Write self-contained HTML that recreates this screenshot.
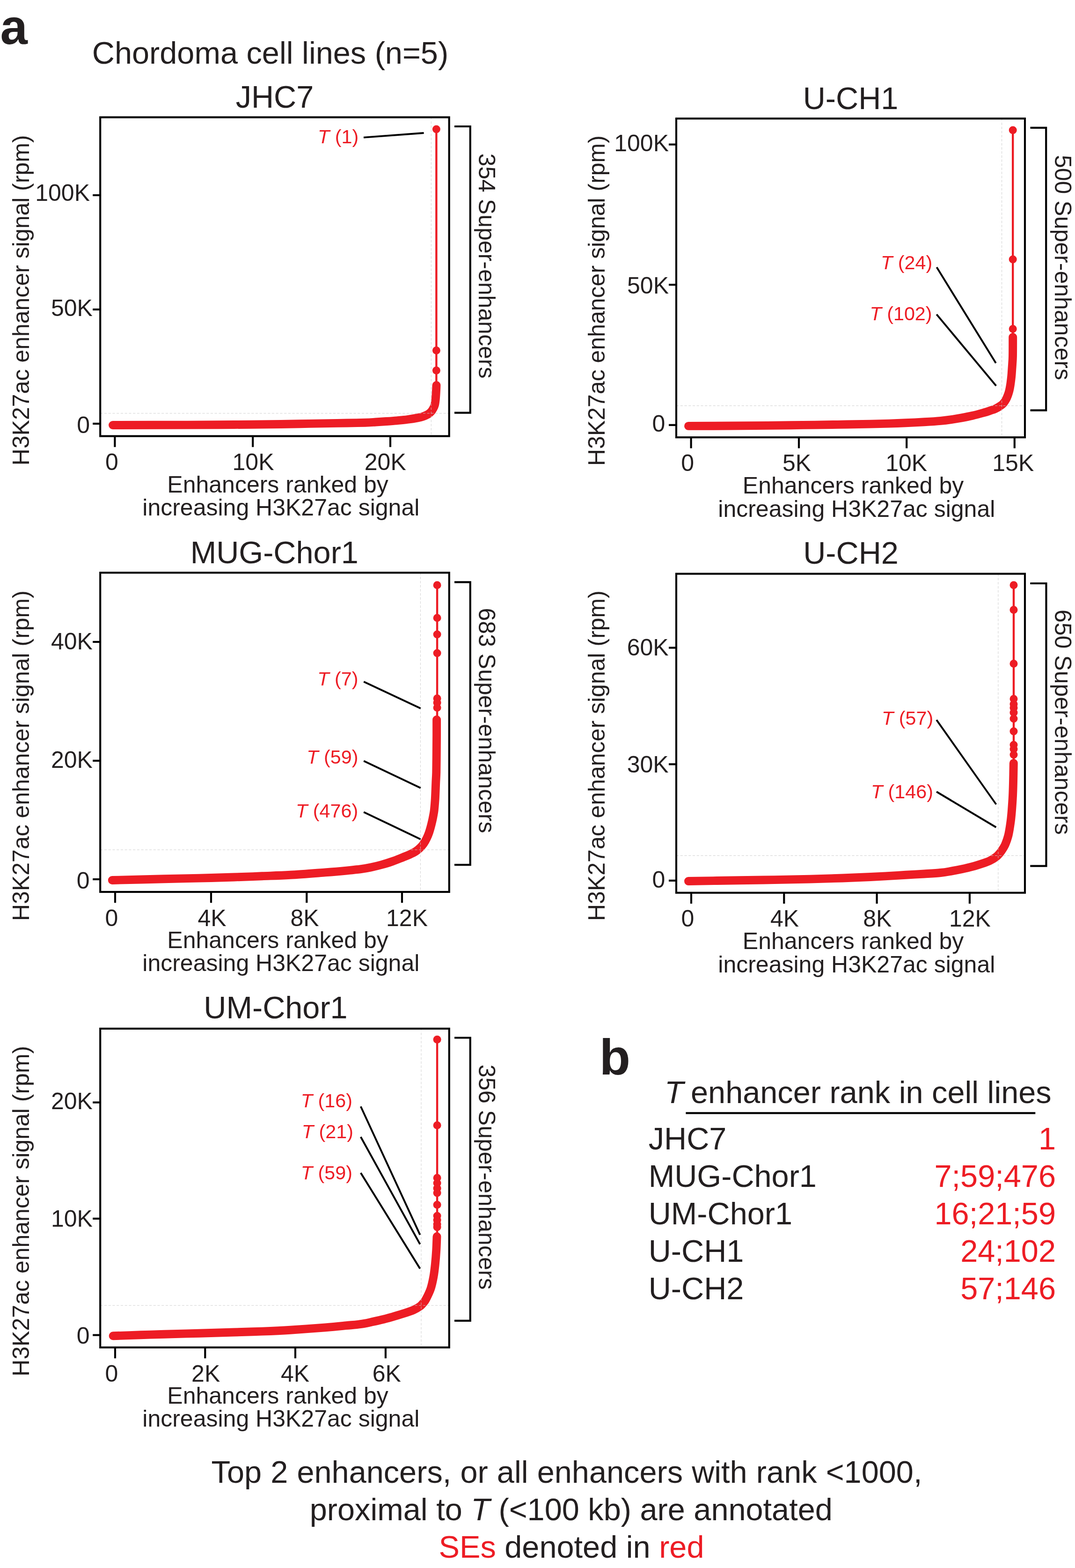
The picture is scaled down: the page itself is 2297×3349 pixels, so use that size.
<!DOCTYPE html>
<html lang="en">
<head>
<meta charset="utf-8">
<title>Chordoma cell lines - T enhancer rank</title>
<style>
html,body{margin:0;padding:0;background:#ffffff;}
body{width:2297px;height:3349px;overflow:hidden;}
svg{display:block;}
text{font-family:"Liberation Sans",Arial,Helvetica,sans-serif;fill:#231f20;}
.b{font-weight:bold;}
.i{font-style:italic;}
.r{fill:#ed1c24;}
.ax{stroke:#000000;stroke-width:4.17;fill:none;}
.an{stroke:#000000;stroke-width:3.9;fill:none;}
.g{stroke:#c9c9c9;stroke-opacity:0.85;stroke-width:1.0;stroke-dasharray:5.2 3.53;fill:none;}
.c{stroke:#ed1c24;stroke-width:17.9;fill:none;stroke-linecap:round;stroke-linejoin:round;}
.t{stroke:#ed1c24;stroke-width:4.4;fill:none;}
.d{fill:#ed1c24;}
</style>
</head>
<body>
<svg xmlns="http://www.w3.org/2000/svg" width="2297" height="3349" viewBox="0 0 2297 3349">
<rect x="0" y="0" width="2297" height="3349" fill="#ffffff"/>
<!-- JHC7 -->
<g>
<line class="t" x1="932.4" y1="276" x2="932.4" y2="820"/>
<path class="c" d="M241.0,908.0 C267.5,907.9 356.8,907.8 400.0,907.6 C443.2,907.4 466.7,907.3 500.0,907.0 C533.3,906.7 573.3,906.4 600.0,906.0 C626.7,905.6 640.0,905.2 660.0,904.9 C680.0,904.5 700.0,904.2 720.0,903.9 C740.0,903.5 766.2,903.2 780.0,902.8 C793.8,902.4 795.1,902.0 802.6,901.5 C810.1,901.0 817.7,900.5 825.2,900.0 C832.7,899.5 840.3,899.0 847.8,898.3 C855.3,897.6 862.8,897.0 870.3,896.0 C877.8,895.0 887.2,893.5 892.9,892.4 C898.5,891.3 900.7,890.7 904.2,889.5 C907.7,888.3 910.9,886.9 913.7,885.3 C916.5,883.6 919.0,881.8 921.0,879.6 C923.0,877.4 924.6,874.7 925.9,872.2 C927.2,869.7 928.2,867.6 929.0,864.6 C929.8,861.6 930.2,857.5 930.6,854.1 C931.0,850.8 931.1,848.0 931.4,844.5 C931.6,841.0 931.9,836.4 932.1,832.8 C932.3,829.2 932.4,824.6 932.5,823.0"/>
<circle class="d" cx="932.4" cy="275.9" r="8.5"/>
<circle class="d" cx="932.4" cy="748.4" r="8.5"/>
<circle class="d" cx="932.4" cy="791.3" r="8.5"/>
<line class="g" x1="921.3" y1="250.5" x2="921.3" y2="931.5"/>
<line class="g" x1="214.2" y1="882.8" x2="959.7" y2="882.8"/>
<rect class="ax" x="214.2" y="250.5" width="745.50" height="681.00"/>
<line class="ax" x1="198.2" y1="416.9" x2="214.2" y2="416.9"/>
<text x="192.00" y="429.10" font-size="50" text-anchor="end">100K</text>
<line class="ax" x1="198.2" y1="661.0" x2="214.2" y2="661.0"/>
<text x="197.90" y="675.30" font-size="50" text-anchor="end">50K</text>
<line class="ax" x1="198.2" y1="904.9" x2="214.2" y2="904.9"/>
<text x="192.00" y="925.30" font-size="50" text-anchor="end">0</text>
<line class="ax" x1="245.4" y1="931.5" x2="245.4" y2="954.8"/>
<text x="238.90" y="1004.20" font-size="50" text-anchor="middle">0</text>
<line class="ax" x1="540.2" y1="931.5" x2="540.2" y2="954.8"/>
<text x="541.00" y="1004.20" font-size="50" text-anchor="middle">10K</text>
<line class="ax" x1="834.0" y1="931.5" x2="834.0" y2="954.8"/>
<text x="823.30" y="1004.20" font-size="50" text-anchor="middle">20K</text>
<text x="587.00" y="230.20" font-size="66.67" text-anchor="middle">JHC7</text>
<text transform="translate(61.70,994.20) rotate(-90)" font-size="50">H3K27ac enhancer signal (rpm)</text>
<text x="593.60" y="1051.70" font-size="50" text-anchor="middle">Enhancers ranked by</text>
<text x="600.30" y="1100.90" font-size="50" text-anchor="middle">increasing H3K27ac signal</text>
<path class="ax" d="M971,270 H1004.8 V881.7 H971"/>
<text transform="translate(1023.40,327.50) rotate(90)" font-size="50">354 Super-enhancers</text>
<line class="an" x1="777" y1="293.6" x2="905.6" y2="284"/>
<text x="766.30" y="306.40" font-size="41.3" text-anchor="end" class="r"><tspan class="i">T</tspan> (1)</text>
</g>
<!-- U-CH1 -->
<g>
<line class="t" x1="2164.2" y1="278" x2="2164.2" y2="715"/>
<path class="c" d="M1471.0,909.9 C1485.8,909.8 1531.8,909.7 1560.0,909.5 C1588.2,909.3 1614.2,909.2 1640.0,908.9 C1665.8,908.6 1690.0,908.2 1715.0,907.9 C1740.0,907.6 1765.8,907.3 1790.0,906.9 C1814.2,906.5 1841.7,906.0 1860.0,905.6 C1878.3,905.2 1887.5,905.0 1900.0,904.6 C1912.5,904.2 1922.5,903.8 1935.0,903.3 C1947.5,902.8 1962.5,902.0 1975.0,901.3 C1987.5,900.6 2000.4,899.8 2010.0,898.9 C2019.6,898.0 2025.1,897.2 2032.6,896.1 C2040.1,895.0 2047.7,893.8 2055.2,892.4 C2062.7,891.0 2070.0,889.6 2077.8,887.8 C2085.6,886.0 2095.9,883.1 2102.0,881.4 C2108.1,879.7 2110.3,878.9 2114.4,877.5 C2118.5,876.1 2123.1,874.8 2126.8,873.1 C2130.5,871.4 2133.8,869.4 2136.6,867.5 C2139.4,865.6 2141.4,864.3 2143.5,862.0 C2145.6,859.7 2147.7,856.6 2149.3,853.7 C2151.0,850.8 2152.2,847.7 2153.4,844.5 C2154.6,841.3 2155.6,838.2 2156.5,834.6 C2157.4,831.0 2158.2,826.7 2158.8,822.7 C2159.5,818.7 2159.9,814.7 2160.4,810.8 C2160.9,806.9 2161.3,803.1 2161.6,799.2 C2161.9,795.4 2162.1,791.6 2162.4,787.7 C2162.7,783.9 2162.9,780.7 2163.2,776.1 C2163.5,771.5 2163.8,769.4 2164.0,760.0 C2164.2,750.6 2164.2,726.7 2164.2,720.0"/>
<circle class="d" cx="2164.2" cy="277.9" r="8.5"/>
<circle class="d" cx="2164.2" cy="553.9" r="8.5"/>
<circle class="d" cx="2164.2" cy="702.4" r="8.5"/>
<line class="g" x1="2140.6" y1="253.2" x2="2140.6" y2="934.1"/>
<line class="g" x1="1445.0" y1="866.6" x2="2190.0" y2="866.6"/>
<rect class="ax" x="1445.0" y="253.2" width="745.00" height="680.90"/>
<line class="ax" x1="1429.0" y1="308.6" x2="1445.0" y2="308.6"/>
<text x="1429.00" y="322.70" font-size="50" text-anchor="end">100K</text>
<line class="ax" x1="1429.0" y1="608.2" x2="1445.0" y2="608.2"/>
<text x="1429.00" y="626.80" font-size="50" text-anchor="end">50K</text>
<line class="ax" x1="1429.0" y1="907.8" x2="1445.0" y2="907.8"/>
<text x="1421.40" y="921.70" font-size="50" text-anchor="end">0</text>
<line class="ax" x1="1476.6" y1="934.1" x2="1476.6" y2="957.4"/>
<text x="1469.20" y="1005.50" font-size="50" text-anchor="middle">0</text>
<line class="ax" x1="1707" y1="934.1" x2="1707" y2="957.4"/>
<text x="1702.50" y="1005.50" font-size="50" text-anchor="middle">5K</text>
<line class="ax" x1="1937.2" y1="934.1" x2="1937.2" y2="957.4"/>
<text x="1936.70" y="1005.50" font-size="50" text-anchor="middle">10K</text>
<line class="ax" x1="2167.8" y1="934.1" x2="2167.8" y2="957.4"/>
<text x="2164.80" y="1005.50" font-size="50" text-anchor="middle">15K</text>
<text x="1817.50" y="232.50" font-size="66.67" text-anchor="middle">U-CH1</text>
<text transform="translate(1291.90,995.00) rotate(-90)" font-size="50">H3K27ac enhancer signal (rpm)</text>
<text x="1823.10" y="1054.30" font-size="50" text-anchor="middle">Enhancers ranked by</text>
<text x="1830.30" y="1103.50" font-size="50" text-anchor="middle">increasing H3K27ac signal</text>
<path class="ax" d="M2201.5,272.8 H2235.2 V876.4 H2201.5"/>
<text transform="translate(2253.60,331.00) rotate(90)" font-size="50">500 Super-enhancers</text>
<line class="an" x1="2001.5" y1="570.8" x2="2127.9" y2="775.5"/>
<text x="1992.20" y="575.30" font-size="41.3" text-anchor="end" class="r"><tspan class="i">T</tspan> (24)</text>
<line class="an" x1="2001.3" y1="671.6" x2="2128.4" y2="823.9"/>
<text x="1991.60" y="684.40" font-size="41.3" text-anchor="end" class="r"><tspan class="i">T</tspan> (102)</text>
</g>
<!-- MUG-Chor1 -->
<g>
<line class="t" x1="934.1" y1="1250" x2="934.1" y2="1535"/>
<path class="c" d="M239.8,1880.0 C258.2,1879.5 319.1,1878.0 350.0,1877.3 C380.9,1876.6 400.0,1876.2 425.0,1875.6 C450.0,1875.0 477.5,1874.2 500.0,1873.5 C522.5,1872.8 540.0,1872.1 560.0,1871.3 C580.0,1870.5 597.5,1870.1 620.0,1868.8 C642.5,1867.5 675.0,1864.9 695.0,1863.4 C715.0,1861.9 727.5,1860.8 740.0,1859.6 C752.5,1858.4 761.2,1857.5 770.0,1856.3 C778.8,1855.1 785.1,1854.0 792.6,1852.4 C800.1,1850.9 807.7,1849.1 815.2,1847.0 C822.7,1844.9 830.2,1842.7 837.8,1840.0 C845.4,1837.3 854.7,1833.5 860.9,1831.1 C867.1,1828.6 870.5,1827.4 875.0,1825.3 C879.5,1823.2 884.2,1821.0 888.0,1818.6 C891.8,1816.2 894.8,1813.5 897.7,1810.7 C900.6,1807.9 902.9,1805.3 905.3,1801.9 C907.6,1798.5 909.9,1794.4 911.8,1790.4 C913.7,1786.5 915.4,1782.2 916.8,1778.2 C918.2,1774.2 919.3,1770.0 920.4,1766.1 C921.5,1762.1 922.4,1758.4 923.3,1754.5 C924.2,1750.6 925.0,1746.7 925.7,1742.8 C926.4,1738.9 927.1,1736.3 927.7,1731.0 C928.3,1725.7 929.0,1717.4 929.5,1710.7 C930.0,1704.0 930.2,1697.3 930.5,1690.6 C930.8,1683.9 931.0,1677.4 931.3,1670.6 C931.6,1663.8 932.1,1658.4 932.3,1650.0 C932.5,1641.6 932.6,1633.3 932.7,1620.0 C932.8,1606.7 933.0,1583.8 933.1,1570.0 C933.2,1556.2 933.1,1542.5 933.1,1537.0"/>
<circle class="d" cx="934.1" cy="1249.7" r="8.5"/>
<circle class="d" cx="934.1" cy="1319.7" r="8.5"/>
<circle class="d" cx="934.1" cy="1355" r="8.5"/>
<circle class="d" cx="934.1" cy="1395" r="8.5"/>
<circle class="d" cx="934.1" cy="1491.7" r="8.5"/>
<circle class="d" cx="934.1" cy="1501" r="8.5"/>
<circle class="d" cx="934.1" cy="1511.6" r="8.5"/>
<line class="g" x1="898.4" y1="1223.2" x2="898.4" y2="1905.0"/>
<line class="g" x1="214.2" y1="1815" x2="959.8" y2="1815"/>
<rect class="ax" x="214.2" y="1223.2" width="745.60" height="681.80"/>
<line class="ax" x1="198.2" y1="1371.0" x2="214.2" y2="1371.0"/>
<text x="197.90" y="1387.00" font-size="50" text-anchor="end">40K</text>
<line class="ax" x1="198.2" y1="1624.8" x2="214.2" y2="1624.8"/>
<text x="197.90" y="1640.40" font-size="50" text-anchor="end">20K</text>
<line class="ax" x1="198.2" y1="1878.0" x2="214.2" y2="1878.0"/>
<text x="191.50" y="1898.00" font-size="50" text-anchor="end">0</text>
<line class="ax" x1="246" y1="1905.0" x2="246" y2="1928.3"/>
<text x="238.50" y="1977.50" font-size="50" text-anchor="middle">0</text>
<line class="ax" x1="451" y1="1905.0" x2="451" y2="1928.3"/>
<text x="453.10" y="1977.50" font-size="50" text-anchor="middle">4K</text>
<line class="ax" x1="655.3" y1="1905.0" x2="655.3" y2="1928.3"/>
<text x="651.10" y="1977.50" font-size="50" text-anchor="middle">8K</text>
<line class="ax" x1="859" y1="1905.0" x2="859" y2="1928.3"/>
<text x="869.50" y="1977.50" font-size="50" text-anchor="middle">12K</text>
<text x="586.30" y="1202.60" font-size="66.67" text-anchor="middle">MUG-Chor1</text>
<text transform="translate(61.70,1967.00) rotate(-90)" font-size="50">H3K27ac enhancer signal (rpm)</text>
<text x="593.60" y="2025.00" font-size="50" text-anchor="middle">Enhancers ranked by</text>
<text x="600.30" y="2074.20" font-size="50" text-anchor="middle">increasing H3K27ac signal</text>
<path class="ax" d="M971,1243.3 H1004.8 V1847.1 H971"/>
<text transform="translate(1023.40,1298.50) rotate(90)" font-size="50">683 Super-enhancers</text>
<line class="an" x1="777.2" y1="1456" x2="898.7" y2="1513"/>
<text x="765.50" y="1463.50" font-size="41.3" text-anchor="end" class="r"><tspan class="i">T</tspan> (7)</text>
<line class="an" x1="777.2" y1="1625.3" x2="898.7" y2="1683"/>
<text x="765.50" y="1631.20" font-size="41.3" text-anchor="end" class="r"><tspan class="i">T</tspan> (59)</text>
<line class="an" x1="777.2" y1="1734.6" x2="898.6" y2="1792.4"/>
<text x="765.20" y="1746.20" font-size="41.3" text-anchor="end" class="r"><tspan class="i">T</tspan> (476)</text>
</g>
<!-- U-CH2 -->
<g>
<line class="t" x1="2166" y1="1250" x2="2166" y2="1630"/>
<path class="c" d="M1471.0,1882.0 C1489.2,1881.7 1549.3,1880.7 1580.0,1880.2 C1610.7,1879.7 1630.0,1879.5 1655.0,1879.1 C1680.0,1878.7 1705.8,1878.2 1730.0,1877.6 C1754.2,1877.0 1778.3,1876.3 1800.0,1875.5 C1821.7,1874.7 1843.3,1873.8 1860.0,1873.0 C1876.7,1872.2 1887.5,1871.6 1900.0,1870.9 C1912.5,1870.2 1922.5,1869.5 1935.0,1868.8 C1947.5,1868.1 1962.5,1867.3 1975.0,1866.5 C1987.5,1865.7 2000.4,1865.0 2010.0,1864.0 C2019.6,1863.0 2025.1,1861.9 2032.6,1860.6 C2040.1,1859.3 2047.7,1857.9 2055.2,1856.3 C2062.7,1854.7 2069.8,1853.1 2077.8,1850.9 C2085.8,1848.7 2097.0,1845.0 2103.3,1842.9 C2109.6,1840.8 2111.4,1840.2 2115.5,1838.1 C2119.6,1836.0 2124.6,1833.0 2128.0,1830.5 C2131.4,1828.0 2133.4,1825.6 2135.8,1822.8 C2138.2,1820.0 2140.3,1816.9 2142.2,1813.9 C2144.1,1811.0 2145.7,1808.4 2147.3,1805.1 C2148.9,1801.8 2150.4,1797.5 2151.7,1793.8 C2152.9,1790.1 2153.9,1786.9 2154.8,1783.1 C2155.7,1779.3 2156.4,1775.0 2157.1,1771.1 C2157.8,1767.1 2158.3,1763.3 2158.9,1759.4 C2159.5,1755.5 2159.9,1752.6 2160.4,1747.8 C2160.9,1743.0 2161.4,1738.5 2162.0,1730.5 C2162.6,1722.5 2163.5,1709.9 2164.0,1700.0 C2164.5,1690.1 2164.7,1682.7 2165.0,1671.0 C2165.3,1659.3 2165.7,1636.8 2165.8,1630.0"/>
<circle class="d" cx="2166" cy="1249.7" r="8.5"/>
<circle class="d" cx="2166" cy="1302.4" r="8.5"/>
<circle class="d" cx="2166" cy="1417.5" r="8.5"/>
<circle class="d" cx="2166" cy="1492.8" r="8.5"/>
<circle class="d" cx="2166" cy="1504" r="8.5"/>
<circle class="d" cx="2166" cy="1512" r="8.5"/>
<circle class="d" cx="2166" cy="1522" r="8.5"/>
<circle class="d" cx="2166" cy="1535" r="8.5"/>
<circle class="d" cx="2166" cy="1562" r="8.5"/>
<circle class="d" cx="2166" cy="1591" r="8.5"/>
<circle class="d" cx="2166" cy="1600" r="8.5"/>
<circle class="d" cx="2166" cy="1612" r="8.5"/>
<line class="g" x1="2132.9" y1="1225.5" x2="2132.9" y2="1906.8"/>
<line class="g" x1="1445.0" y1="1827.5" x2="2190.0" y2="1827.5"/>
<rect class="ax" x="1445.0" y="1225.5" width="745.00" height="681.30"/>
<line class="ax" x1="1429.0" y1="1383.5" x2="1445.0" y2="1383.5"/>
<text x="1428.60" y="1399.50" font-size="50" text-anchor="end">60K</text>
<line class="ax" x1="1429.0" y1="1632.3" x2="1445.0" y2="1632.3"/>
<text x="1428.60" y="1650.00" font-size="50" text-anchor="end">30K</text>
<line class="ax" x1="1429.0" y1="1880.8" x2="1445.0" y2="1880.8"/>
<text x="1421.30" y="1896.00" font-size="50" text-anchor="end">0</text>
<line class="ax" x1="1477" y1="1906.8" x2="1477" y2="1930.1"/>
<text x="1469.50" y="1978.50" font-size="50" text-anchor="middle">0</text>
<line class="ax" x1="1675.3" y1="1906.8" x2="1675.3" y2="1930.1"/>
<text x="1676.50" y="1978.50" font-size="50" text-anchor="middle">4K</text>
<line class="ax" x1="1873.6" y1="1906.8" x2="1873.6" y2="1930.1"/>
<text x="1874.80" y="1978.50" font-size="50" text-anchor="middle">8K</text>
<line class="ax" x1="2071.9" y1="1906.8" x2="2071.9" y2="1930.1"/>
<text x="2072.40" y="1978.50" font-size="50" text-anchor="middle">12K</text>
<text x="1818.00" y="1204.40" font-size="66.67" text-anchor="middle">U-CH2</text>
<text transform="translate(1291.90,1967.00) rotate(-90)" font-size="50">H3K27ac enhancer signal (rpm)</text>
<text x="1823.10" y="2027.30" font-size="50" text-anchor="middle">Enhancers ranked by</text>
<text x="1830.30" y="2076.50" font-size="50" text-anchor="middle">increasing H3K27ac signal</text>
<path class="ax" d="M2201.3,1246 H2235.5 V1849.6 H2201.3"/>
<text transform="translate(2253.60,1302.00) rotate(90)" font-size="50">650 Super-enhancers</text>
<line class="an" x1="2001.1" y1="1537.6" x2="2128.5" y2="1718"/>
<text x="1994.20" y="1548.00" font-size="41.3" text-anchor="end" class="r"><tspan class="i">T</tspan> (57)</text>
<line class="an" x1="2001.1" y1="1691" x2="2128.4" y2="1767"/>
<text x="1994.00" y="1704.80" font-size="41.3" text-anchor="end" class="r"><tspan class="i">T</tspan> (146)</text>
</g>
<!-- UM-Chor1 -->
<g>
<line class="t" x1="934.1" y1="2220" x2="934.1" y2="2645"/>
<path class="c" d="M241.6,2853.3 C251.3,2853.0 281.9,2851.9 300.0,2851.3 C318.1,2850.7 329.2,2850.4 350.0,2849.8 C370.8,2849.2 400.0,2848.4 425.0,2847.7 C450.0,2847.0 477.5,2846.2 500.0,2845.5 C522.5,2844.8 540.0,2844.4 560.0,2843.6 C580.0,2842.8 597.5,2842.1 620.0,2840.7 C642.5,2839.3 675.0,2836.9 695.0,2835.3 C715.0,2833.7 727.5,2832.4 740.0,2831.2 C752.5,2830.0 761.2,2829.4 770.0,2828.2 C778.8,2827.0 785.1,2825.5 792.6,2823.9 C800.1,2822.3 807.7,2820.7 815.2,2818.8 C822.7,2817.0 830.3,2814.9 837.8,2812.8 C845.3,2810.7 852.6,2808.6 860.3,2806.1 C868.0,2803.6 877.8,2800.4 884.0,2797.7 C890.2,2795.0 894.2,2792.4 897.6,2789.9 C901.0,2787.4 902.5,2785.2 904.6,2782.7 C906.7,2780.2 907.5,2780.0 910.1,2775.0 C912.7,2770.0 917.6,2760.5 920.3,2752.5 C923.0,2744.5 924.7,2735.8 926.3,2727.2 C927.9,2718.6 928.8,2710.3 929.8,2700.8 C930.8,2691.3 931.7,2680.0 932.3,2670.0 C932.9,2660.0 933.3,2645.8 933.5,2641.0"/>
<circle class="d" cx="934.1" cy="2220.2" r="8.5"/>
<circle class="d" cx="934.1" cy="2403.5" r="8.5"/>
<circle class="d" cx="934.1" cy="2515.7" r="8.5"/>
<circle class="d" cx="934.1" cy="2527" r="8.5"/>
<circle class="d" cx="934.1" cy="2538" r="8.5"/>
<circle class="d" cx="934.1" cy="2548" r="8.5"/>
<circle class="d" cx="934.1" cy="2573.3" r="8.5"/>
<circle class="d" cx="934.1" cy="2597" r="8.5"/>
<circle class="d" cx="934.1" cy="2606" r="8.5"/>
<circle class="d" cx="934.1" cy="2615" r="8.5"/>
<circle class="d" cx="934.1" cy="2621" r="8.5"/>
<line class="g" x1="900" y1="2197.0" x2="900" y2="2877.9"/>
<line class="g" x1="214.2" y1="2788.2" x2="959.8" y2="2788.2"/>
<rect class="ax" x="214.2" y="2197.0" width="745.60" height="680.90"/>
<line class="ax" x1="198.2" y1="2354.6" x2="214.2" y2="2354.6"/>
<text x="197.90" y="2369.40" font-size="50" text-anchor="end">20K</text>
<line class="ax" x1="198.2" y1="2602.8" x2="214.2" y2="2602.8"/>
<text x="197.90" y="2620.00" font-size="50" text-anchor="end">10K</text>
<line class="ax" x1="198.2" y1="2851.5" x2="214.2" y2="2851.5"/>
<text x="191.50" y="2869.50" font-size="50" text-anchor="end">0</text>
<line class="ax" x1="246" y1="2877.9" x2="246" y2="2901.2000000000003"/>
<text x="238.50" y="2950.50" font-size="50" text-anchor="middle">0</text>
<line class="ax" x1="438.3" y1="2877.9" x2="438.3" y2="2901.2000000000003"/>
<text x="439.70" y="2950.50" font-size="50" text-anchor="middle">2K</text>
<line class="ax" x1="631" y1="2877.9" x2="631" y2="2901.2000000000003"/>
<text x="630.50" y="2950.50" font-size="50" text-anchor="middle">4K</text>
<line class="ax" x1="823.9" y1="2877.9" x2="823.9" y2="2901.2000000000003"/>
<text x="826.40" y="2950.50" font-size="50" text-anchor="middle">6K</text>
<text x="589.00" y="2174.80" font-size="66.67" text-anchor="middle">UM-Chor1</text>
<text transform="translate(61.70,2939.70) rotate(-90)" font-size="50">H3K27ac enhancer signal (rpm)</text>
<text x="593.60" y="2997.80" font-size="50" text-anchor="middle">Enhancers ranked by</text>
<text x="600.30" y="3047.00" font-size="50" text-anchor="middle">increasing H3K27ac signal</text>
<path class="ax" d="M971,2216.5 H1004.8 V2820.8 H971"/>
<text transform="translate(1023.40,2273.50) rotate(90)" font-size="50">356 Super-enhancers</text>
<line class="an" x1="770.8" y1="2363.2" x2="897.5" y2="2637.4"/>
<text x="753.00" y="2365.40" font-size="41.3" text-anchor="end" class="r"><tspan class="i">T</tspan> (16)</text>
<line class="an" x1="770.8" y1="2428.3" x2="897.5" y2="2657.5"/>
<text x="755.00" y="2431.00" font-size="41.3" text-anchor="end" class="r"><tspan class="i">T</tspan> (21)</text>
<line class="an" x1="770.8" y1="2505.1" x2="897.5" y2="2709.6"/>
<text x="753.00" y="2518.60" font-size="41.3" text-anchor="end" class="r"><tspan class="i">T</tspan> (59)</text>
</g>
<text x="0.5" y="94" font-size="105" class="b">a</text>
<text x="196.8" y="135.5" font-size="66.67">Chordoma cell lines (n=5)</text>
<text x="1280.7" y="2295.3" font-size="108.33" class="b">b</text>
<text x="1420" y="2356" font-size="66.67" class="i">T</text>
<text x="1476" y="2356" font-size="66.67">enhancer rank in cell lines</text>
<line class="ax" x1="1465.4" y1="2377.3" x2="2212.3" y2="2377.3"/>
<text x="1385.7" y="2455.30" font-size="66.67">JHC7</text>
<text x="2256" y="2455.30" font-size="66.67" text-anchor="end" class="r">1</text>
<text x="1385.7" y="2535.15" font-size="66.67">MUG-Chor1</text>
<text x="2256" y="2535.15" font-size="66.67" text-anchor="end" class="r">7;59;476</text>
<text x="1385.7" y="2615.00" font-size="66.67">UM-Chor1</text>
<text x="2256" y="2615.00" font-size="66.67" text-anchor="end" class="r">16;21;59</text>
<text x="1385.7" y="2694.85" font-size="66.67">U-CH1</text>
<text x="2256" y="2694.85" font-size="66.67" text-anchor="end" class="r">24;102</text>
<text x="1385.7" y="2774.70" font-size="66.67">U-CH2</text>
<text x="2256" y="2774.70" font-size="66.67" text-anchor="end" class="r">57;146</text>
<text x="1211" y="3166.9" font-size="66.67" text-anchor="middle" word-spacing="0.65">Top 2 enhancers, or all enhancers with rank &lt;1000,</text>
<text x="1220.3" y="3246.9" font-size="66.67" text-anchor="middle">proximal to <tspan class="i">T</tspan> (&lt;100 kb) are annotated</text>
<text x="1221" y="3326.6" font-size="66.67" text-anchor="middle"><tspan class="r">SEs</tspan> denoted in <tspan class="r">red</tspan></text>
</svg>
</body>
</html>
